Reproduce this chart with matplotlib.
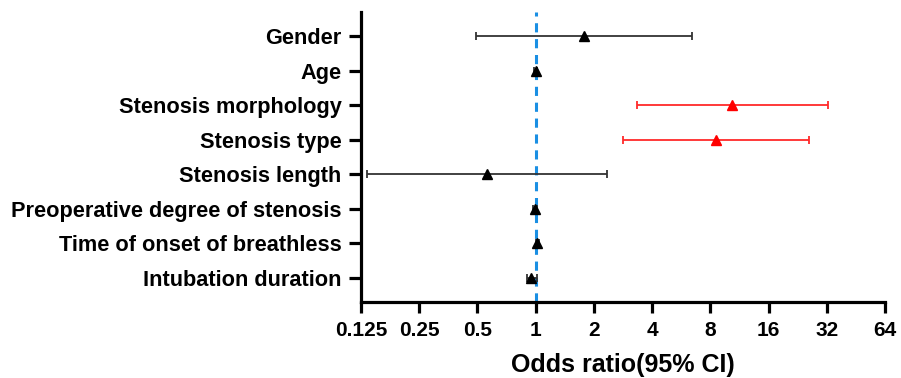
import numpy as np
import matplotlib
matplotlib.use("Agg")
import matplotlib.pyplot as plt

plt.rcParams['font.family'] = ['Liberation Sans', 'DejaVu Sans']
plt.rcParams['font.weight'] = 'bold'

factors = ["Gender", "Age", "Stenosis morphology", "Stenosis type",
           "Stenosis length", "Preoperative degree of stenosis",
           "Time of onset of breathless", "Intubation duration"]
odds = [1.78, 1.0, 10.4, 8.6, 0.56, 0.99, 1.02, 0.95]
lower = [0.49, 0.98, 3.35, 2.83, 0.135, 0.97, 1.0, 0.90]
upper = [6.44, 1.02, 32.3, 26.0, 2.33, 1.01, 1.04, 1.01]
significant = [False, False, True, True, False, False, False, False]
xticks = [0.125, 0.25, 0.5, 1, 2, 4, 8, 16, 32, 64]
xticklabels = ["0.125", "0.25", "0.5", "1", "2", "4", "8", "16", "32", "64"]

fig = plt.figure(figsize=(9.01, 3.78), dpi=100)
ax = fig.add_axes([0.4007, 0.201, 0.5815, 0.767])

ypos = np.arange(len(factors))
for i in range(len(factors)):
    col = '#ff2a2a' if significant[i] else '#333333'
    mcol = '#ff0000' if significant[i] else 'black'
    ax.errorbar(odds[i], ypos[i],
                xerr=[[odds[i] - lower[i]], [upper[i] - odds[i]]],
                fmt='^', color=col, mfc=mcol, mec=mcol, ms=6.5,
                elinewidth=1.3, capsize=3, capthick=1.3, zorder=3)

ax.axvline(1, color='#1a8fe3', ls=(0, (3, 2.2)), lw=2.2, zorder=2)

ax.set_xscale('log', base=2)
ax.set_xlim(0.125, 64)
ax.set_xticks(xticks)
ax.set_xticklabels(xticklabels)
ax.minorticks_off()
ax.set_ylim(len(factors) - 0.3, -0.7)
ax.set_yticks(ypos)
ax.set_yticklabels(factors)

ax.spines['top'].set_visible(False)
ax.spines['right'].set_visible(False)
ax.spines['left'].set_linewidth(2.3)
ax.spines['bottom'].set_linewidth(2.3)
ax.tick_params(axis='y', length=9, width=2.3, labelsize=15.7, pad=5)
ax.tick_params(axis='x', length=8, width=2.3, labelsize=15, pad=6)
ax.set_xlabel("Odds ratio(95% CI)", fontsize=18, fontweight='bold', labelpad=9)

fig.savefig("out.png", dpi=100)
